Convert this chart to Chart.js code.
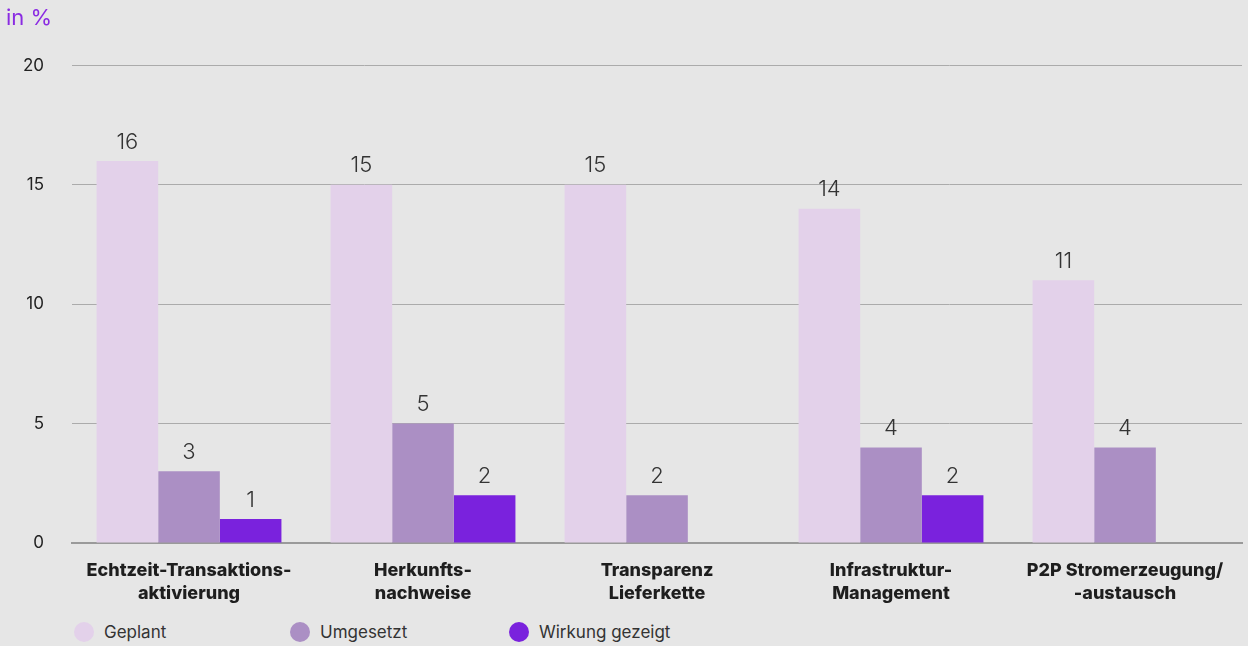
<!DOCTYPE html>
<html>
<head>
<meta charset="utf-8">
<script src="https://cdn.jsdelivr.net/npm/chart.js@4"></script>
<style>
  html, body { margin: 0; padding: 0; background: #e6e6e6; }
  #wrap { position: relative; width: 1248px; height: 646px; }
  #legend { position: absolute; left: 0; top: 620px; height: 24px; font-family: Inter, sans-serif; font-size: 17px; color: #333; }
  .item { position: absolute; top: 0; white-space: nowrap; display: flex; align-items: center; height: 24px; }
  .dot { width: 20px; height: 20px; border-radius: 50%; margin-right: 10px; }
</style>
</head>
<body>
<div id="wrap">
  <canvas id="chart" width="1248" height="613"></canvas>
  <div id="legend"></div>
</div>
<script>
const categories = [
	['Echtzeit-Transaktions-', 'aktivierung'],
	['Herkunfts-', 'nachweise'],
	['Transparenz', 'Lieferkette'],
	['Infrastruktur-', 'Management'],
	['P2P Stromerzeugung/', '-austausch']
];
const geplant = [16, 15, 15, 14, 11];
const umgesetzt = [3, 5, 2, 4, 4];
const wirkung = [1, 2, null, 2, null];
const seriesNames = ['Geplant', 'Umgesetzt', 'Wirkung gezeigt'];
const seriesColors = ['#e3d1ea', '#ab8fc4', '#7a22dd'];
const yTicks = [0, 5, 10, 15, 20];

const valueLabels = {
	id: 'valueLabels',
	afterDatasetsDraw(chart) {
		const ctx = chart.ctx;
		ctx.save();
		ctx.font = '300 22px Inter, sans-serif';
		ctx.fillStyle = '#333';
		ctx.textAlign = 'center';
		ctx.textBaseline = 'bottom';
		chart.data.datasets.forEach((ds, i) => {
			chart.getDatasetMeta(i).data.forEach((bar, j) => {
				if (ds.data[j] == null) return;
				ctx.fillText(ds.data[j], bar.x, bar.y - 8);
			});
		});
		ctx.restore();
	}
};

const datasets = [geplant, umgesetzt, wirkung].map((d, i) => ({
	label: seriesNames[i],
	data: d,
	backgroundColor: seriesColors[i],
	barPercentage: 1,
	categoryPercentage: 0.79
}));

new Chart(document.getElementById('chart'), {
	type: 'bar',
	data: { labels: categories, datasets: datasets },
	plugins: [valueLabels],
	options: {
		responsive: false,
		animation: false,
		layout: { padding: { top: 0, right: 6, left: 6, bottom: 0 } },
		plugins: {
			legend: { display: false },
			tooltip: { enabled: false },
			title: {
				display: true,
				text: 'in %',
				align: 'start',
				color: '#8a2be2',
				font: { family: 'Inter, sans-serif', size: 22, weight: 'normal' },
				padding: { top: 5, bottom: 34 }
			}
		},
		scales: {
			x: {
				grid: { display: false },
				border: { display: true, color: '#9a9a9a', width: 2 },
				ticks: {
					color: '#1e1e1e',
					font: { family: 'Inter, sans-serif', size: 18, weight: '800', lineHeight: 1.28 },
					padding: 8,
					maxRotation: 0
				}
			},
			y: {
				min: 0,
				max: 20,
				afterFit(scale) { scale.width = 66; },
				afterBuildTicks(scale) { scale.ticks = yTicks.map(v => ({ value: v })); },
				grid: { color: '#ababab', lineWidth: 1, drawTicks: false },
				border: { display: false },
				ticks: {
					color: '#222',
					font: { family: 'Inter, sans-serif', size: 17 },
					padding: 28
				}
			}
		}
	}
});

const legend = document.getElementById('legend');
const legendX = [74, 290, 509];
seriesNames.forEach((name, i) => {
	const item = document.createElement('div');
	item.className = 'item';
	item.style.left = legendX[i] + 'px';
	item.innerHTML = '<span class="dot" style="background:' + seriesColors[i] + '"></span>' + name;
	legend.appendChild(item);
});
</script>
</body>
</html>
